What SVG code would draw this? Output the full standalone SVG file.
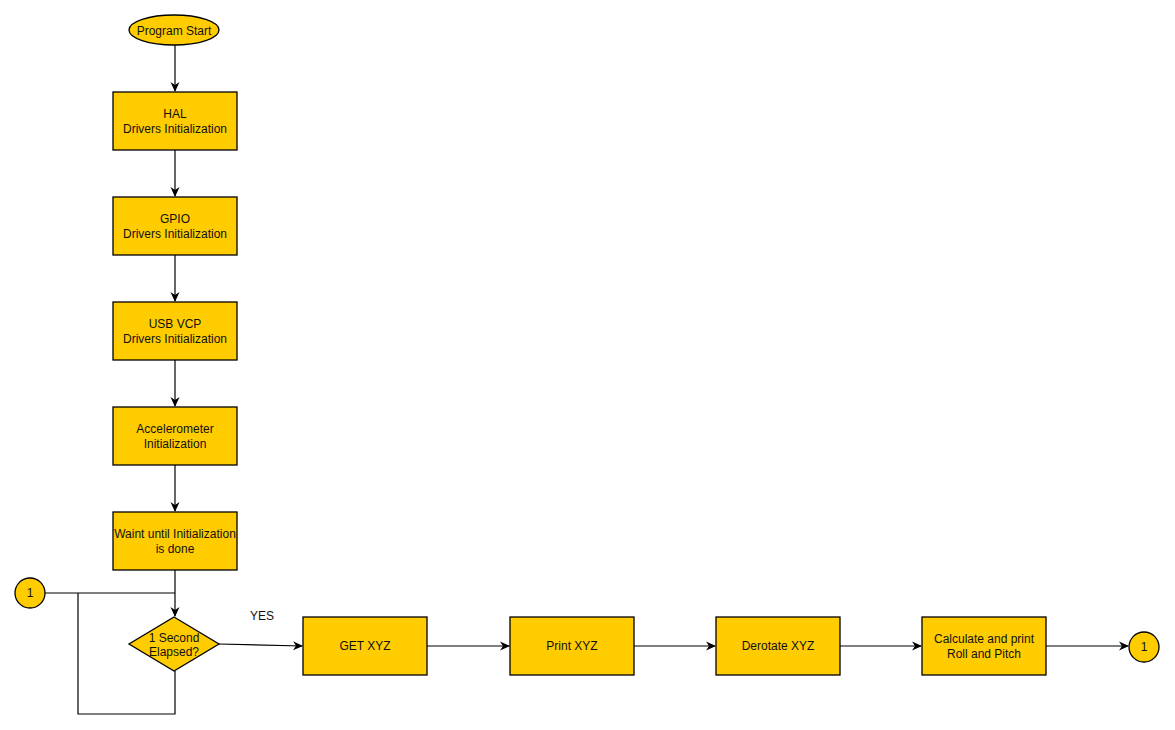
<svg xmlns="http://www.w3.org/2000/svg" width="1175" height="730" viewBox="0 0 1175 730">
<style>
.n{fill:#FFCC00;stroke:#000;stroke-width:1.3}
.t{font-family:"Liberation Sans",Arial,sans-serif;font-size:12px;fill:#111;text-anchor:middle}
.c{fill:none;stroke:#000;stroke-width:1.2}
</style>
<defs>
<marker id="a" viewBox="0 0 10 10" refX="9" refY="5" markerWidth="10" markerHeight="10" orient="auto" markerUnits="userSpaceOnUse">
<path d="M0,0.5 L10,5 L0,9.5 L3,5 z" fill="#000"/>
</marker>
</defs>
<rect width="1175" height="730" fill="#fff"/>
<g id="connectors">
<path class="c" d="M175,45 V91" marker-end="url(#a)"/>
<path class="c" d="M175,150 V196" marker-end="url(#a)"/>
<path class="c" d="M175,255 V301" marker-end="url(#a)"/>
<path class="c" d="M175,360 V406" marker-end="url(#a)"/>
<path class="c" d="M175,465 V511" marker-end="url(#a)"/>
<path class="c" d="M175,570 V616" marker-end="url(#a)"/>
<path class="c" d="M45,593 H175"/>
<path class="c" d="M175,671 V714 H78 V593"/>
<path class="c" d="M219,644 L302,646" marker-end="url(#a)"/>
<path class="c" d="M427,646 H509" marker-end="url(#a)"/>
<path class="c" d="M634,646 H715" marker-end="url(#a)"/>
<path class="c" d="M840,646 H921" marker-end="url(#a)"/>
<path class="c" d="M1046,646 H1128" marker-end="url(#a)"/>
<text class="t" x="262" y="620">YES</text>
</g>
<g id="start">
<ellipse class="n" cx="174" cy="30" rx="45" ry="15"/>
<text class="t" x="174" y="35">Program Start</text>
</g>
<g id="hal">
<rect class="n" x="113" y="92" width="124" height="58"/>
<text class="t" x="175" y="118">HAL</text>
<text class="t" x="175" y="133">Drivers Initialization</text>
</g>
<g id="gpio">
<rect class="n" x="113" y="197" width="124" height="58"/>
<text class="t" x="175" y="223">GPIO</text>
<text class="t" x="175" y="238">Drivers Initialization</text>
</g>
<g id="usb">
<rect class="n" x="113" y="302" width="124" height="58"/>
<text class="t" x="175" y="328">USB VCP</text>
<text class="t" x="175" y="343">Drivers Initialization</text>
</g>
<g id="accel">
<rect class="n" x="113" y="407" width="124" height="58"/>
<text class="t" x="175" y="433">Accelerometer</text>
<text class="t" x="175" y="448">Initialization</text>
</g>
<g id="wait">
<rect class="n" x="113" y="512" width="124" height="58"/>
<text class="t" x="175" y="538">Waint until Initialization</text>
<text class="t" x="175" y="553">is done</text>
</g>
<g id="decision">
<path class="n" d="M174,617 L219,644 L174,671 L129,644 Z"/>
<text class="t" x="174" y="642">1 Second</text>
<text class="t" x="174" y="656">Elapsed?</text>
</g>
<g id="conn-left">
<circle class="n" cx="30" cy="593" r="15"/>
<text class="t" x="30" y="597">1</text>
</g>
<g id="getxyz">
<rect class="n" x="303" y="617" width="124" height="58"/>
<text class="t" x="365" y="650">GET XYZ</text>
</g>
<g id="printxyz">
<rect class="n" x="510" y="617" width="124" height="58"/>
<text class="t" x="572" y="650">Print XYZ</text>
</g>
<g id="derotate">
<rect class="n" x="716" y="617" width="124" height="58"/>
<text class="t" x="778" y="650">Derotate XYZ</text>
</g>
<g id="calc">
<rect class="n" x="922" y="617" width="124" height="58"/>
<text class="t" x="984" y="643">Calculate and print</text>
<text class="t" x="984" y="658">Roll and Pitch</text>
</g>
<g id="conn-right">
<circle class="n" cx="1144" cy="647" r="15"/>
<text class="t" x="1144" y="651">1</text>
</g>
</svg>
